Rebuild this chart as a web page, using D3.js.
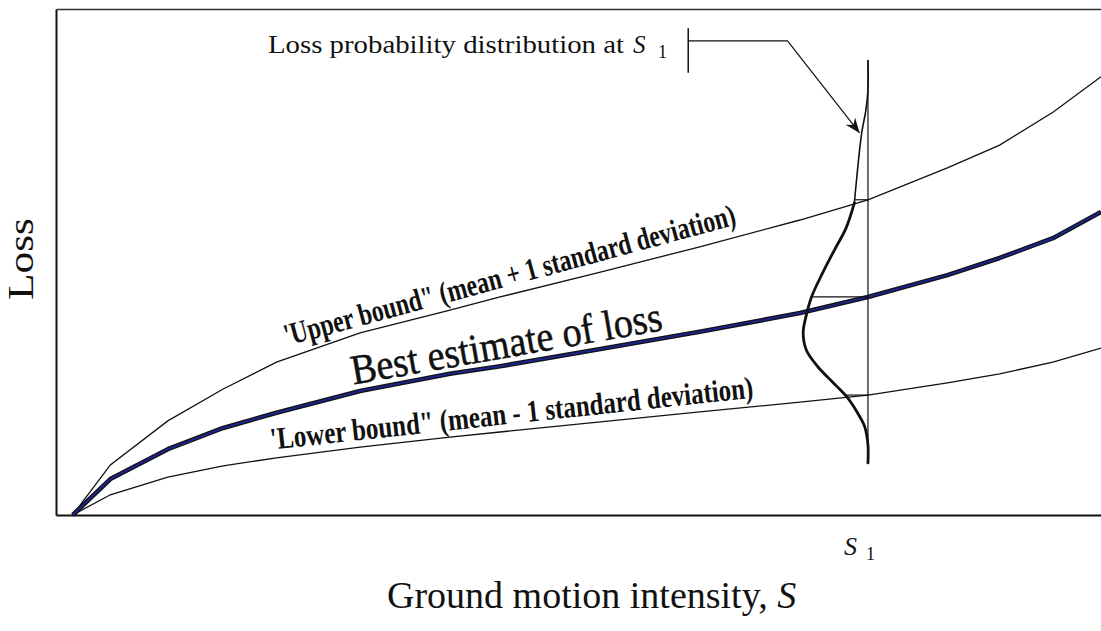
<!DOCTYPE html>
<html>
<head>
<meta charset="utf-8">
<script src="https://cdn.jsdelivr.net/npm/d3@7"></script>
<style>
  body { margin: 0; background: #fff; }
  svg { display: block; }
  text { font-family: "Liberation Serif", "Times New Roman", serif; fill: #111; }
</style>
</head>
<body>
<svg id="chart" width="1101" height="631"></svg>
<script>
// Ground motion intensity S (shared sample grid for the three loss curves)
const intensity = [0.16, 0.52, 1.07, 1.60, 2.11, 2.91, 3.77, 4.25, 5.21, 6.16, 7.12, 7.77, 8.53, 9.03, 9.54, 10.0];
// Loss: mean + 1 standard deviation
const upperLoss = [0, 0.99, 1.86, 2.49, 3.02, 3.60, 4.05, 4.31, 4.80, 5.30, 5.83, 6.23, 6.86, 7.31, 7.96, 8.66];
// Loss: best estimate (mean)
const meanLoss  = [0, 0.71, 1.30, 1.72, 2.02, 2.45, 2.79, 2.94, 3.28, 3.62, 3.99, 4.31, 4.74, 5.08, 5.47, 5.99];
// Loss: mean - 1 standard deviation
const lowerLoss = [0, 0.40, 0.75, 0.97, 1.13, 1.34, 1.54, 1.64, 1.84, 2.04, 2.23, 2.37, 2.61, 2.79, 3.02, 3.30];

// Intensity at which the loss distribution is shown
const S1 = 7.77;
// Loss probability distribution at S1 (loss level, density drawn leftwards in S units)
const distLoss    = [8.99, 8.40, 8.00, 7.55, 6.82, 6.17, 5.67, 5.24, 4.80, 4.31, 3.95, 3.60, 3.26, 2.93, 2.63, 2.33, 2.02, 1.74, 1.38, 1.03];
const distDensity = [0, 0, 0.02, 0.06, 0.10, 0.13, 0.21, 0.32, 0.43, 0.54, 0.59, 0.62, 0.59, 0.48, 0.34, 0.20, 0.10, 0.03, 0, 0];

// Text
const curveLabels = [
  { text: "'Upper bound\" (mean + 1 standard deviation)", series: upperLoss, from: 2.24, to: 6.55, offset: 12, size: 31, weight: "bold" },
  { text: "Best estimate of loss", series: meanLoss, from: 2.86, to: 5.83, offset: 8, size: 42, weight: "normal" },
  { text: "'Lower bound\" (mean - 1 standard deviation)", series: lowerLoss, from: 2.07, to: 6.69, offset: 9, size: 31, weight: "bold" }
];
const xTitle = "Ground motion intensity, ";
const yTitle = "Loss";
const calloutText = "Loss probability distribution at";
// Callout leader (S, loss): bar, elbow and arrow tip
const calloutBar = { s: 6.05, lossTop: 9.62, lossBottom: 8.74, lossLine: 9.37 };
const calloutElbow = { s: 7.00, loss: 9.37 };
const calloutTip = { s: 7.69, loss: 7.55 };

const svg = d3.select("#chart");
const x = d3.scaleLinear().domain([0, 10]).range([56, 1101]);
const y = d3.scaleLinear().domain([0, 10]).range([515, 9]);

// Frame: left, bottom and top edges
function frameAxis(axis, tx, ty) {
  const g = svg.append("g").attr("transform", `translate(${tx},${ty})`)
    .call(axis.tickValues([]).tickSizeOuter(0));
  g.select(".domain").attr("stroke", "#111").attr("stroke-width", 2);
  return g;
}
frameAxis(d3.axisBottom(x), 0, y(0));
frameAxis(d3.axisLeft(y), x(0), 0);
frameAxis(d3.axisTop(x), 0, y(10)).select(".domain").attr("stroke", "#333").attr("stroke-width", 1.5);

// Loss curves
const line = d3.line().x((d, i) => x(intensity[i])).y(d => y(d)).curve(d3.curveLinear);
svg.append("path").attr("d", line(upperLoss)).attr("fill", "none").attr("stroke", "#111").attr("stroke-width", 1.3);
svg.append("path").attr("d", line(lowerLoss)).attr("fill", "none").attr("stroke", "#111").attr("stroke-width", 1.3);
svg.append("path").attr("d", line(meanLoss)).attr("fill", "none").attr("stroke", "#111").attr("stroke-width", 4.6).attr("stroke-linejoin", "round");
svg.append("path").attr("d", line(meanLoss)).attr("fill", "none").attr("stroke", "#1b2488").attr("stroke-width", 2).attr("stroke-linejoin", "round");

// Linear interpolation along a curve
function valueAt(series, s) {
  const i = Math.max(1, Math.min(intensity.length - 1, d3.bisectLeft(intensity, s)));
  const t = (s - intensity[i - 1]) / (intensity[i] - intensity[i - 1]);
  return series[i - 1] + t * (series[i] - series[i - 1]);
}

// Labels laid along the curves
curveLabels.forEach(l => {
  const x0 = x(l.from), y0 = y(valueAt(l.series, l.from));
  const x1 = x(l.to), y1 = y(valueAt(l.series, l.to));
  const ang = Math.atan2(y1 - y0, x1 - x0);
  const len = Math.hypot(x1 - x0, y1 - y0);
  const px = Math.sin(ang) * l.offset, py = -Math.cos(ang) * l.offset;
  svg.append("text")
    .attr("transform", `translate(${x0 + px},${y0 + py}) rotate(${ang * 180 / Math.PI})`)
    .attr("font-size", l.size)
    .attr("font-weight", l.weight)
    .attr("stroke", l.weight === "normal" ? "#111" : "none")
    .attr("stroke-width", 0.5)
    .attr("textLength", len)
    .attr("lengthAdjust", "spacingAndGlyphs")
    .text(l.text);
});

// Vertical line at S1
svg.append("line")
  .attr("x1", x(S1)).attr("x2", x(S1))
  .attr("y1", y(d3.min(distLoss))).attr("y2", y(d3.max(distLoss)))
  .attr("stroke", "#111").attr("stroke-width", 1.2);

// Distribution curve
const distPts = distLoss.map((v, i) => [x(S1 - distDensity[i]), y(v)]);
const distLine = d3.line().curve(d3.curveCatmullRom.alpha(0.5));
svg.append("path").attr("d", distLine(distPts.slice(0, 6))).attr("fill", "none").attr("stroke", "#111").attr("stroke-width", 1.6);
svg.append("path").attr("d", distLine(distPts.slice(5))).attr("fill", "none").attr("stroke", "#111").attr("stroke-width", 2.8).attr("stroke-linecap", "round");

// Horizontal connectors from the distribution curve to S1 at the three curve levels
function densityAt(loss) {
  for (let i = 1; i < distLoss.length; i++) {
    if (loss <= distLoss[i - 1] && loss >= distLoss[i]) {
      const t = (distLoss[i - 1] - loss) / (distLoss[i - 1] - distLoss[i]);
      return distDensity[i - 1] + t * (distDensity[i] - distDensity[i - 1]);
    }
  }
  return 0;
}
[valueAt(upperLoss, S1), valueAt(meanLoss, S1), valueAt(lowerLoss, S1)].forEach(v => {
  svg.append("line")
    .attr("x1", x(S1 - densityAt(v))).attr("x2", x(S1) + 1)
    .attr("y1", y(v)).attr("y2", y(v))
    .attr("stroke", "#111").attr("stroke-width", 1.2);
});

// Callout with leader and arrow
svg.append("line")
  .attr("x1", x(calloutBar.s)).attr("x2", x(calloutBar.s))
  .attr("y1", y(calloutBar.lossTop)).attr("y2", y(calloutBar.lossBottom))
  .attr("stroke", "#111").attr("stroke-width", 1.5);
const tip = [x(calloutTip.s), y(calloutTip.loss)];
const elbow = [x(calloutElbow.s), y(calloutElbow.loss)];
svg.append("path")
  .attr("d", d3.line()([[x(calloutBar.s), y(calloutBar.lossLine)], elbow, tip]))
  .attr("fill", "none").attr("stroke", "#111").attr("stroke-width", 1.2);
{
  const a = Math.atan2(tip[1] - elbow[1], tip[0] - elbow[0]);
  const ux = Math.cos(a), uy = Math.sin(a), vx = -uy, vy = ux;
  const L = 15, Wd = 6, N = 10;
  const head = [
    tip,
    [tip[0] - L * ux + Wd * vx, tip[1] - L * uy + Wd * vy],
    [tip[0] - N * ux, tip[1] - N * uy],
    [tip[0] - L * ux - Wd * vx, tip[1] - L * uy - Wd * vy]
  ];
  svg.append("path").attr("d", d3.line()(head) + "Z").attr("fill", "#111");
}
svg.append("text")
  .attr("x", 268).attr("y", 53)
  .attr("font-size", 25)
  .attr("textLength", 356).attr("lengthAdjust", "spacingAndGlyphs")
  .text(calloutText);
svg.append("text").attr("x", 633).attr("y", 53).attr("font-size", 25).attr("font-style", "italic").text("S");
svg.append("text").attr("x", 658).attr("y", 58).attr("font-size", 18).text("1");

// S1 tick label
svg.append("text").attr("x", x(S1) - 24).attr("y", 555).attr("font-size", 26).attr("font-style", "italic").text("S");
svg.append("text").attr("x", x(S1) - 2).attr("y", 560).attr("font-size", 18).text("1");

// Axis titles
const xt = svg.append("text").attr("x", 387).attr("y", 608).attr("font-size", 38);
xt.append("tspan").text(xTitle);
xt.append("tspan").attr("font-style", "italic").text("S");

svg.append("text")
  .attr("transform", "translate(33,300) rotate(-90)")
  .attr("font-size", 35)
  .attr("textLength", 82).attr("lengthAdjust", "spacingAndGlyphs")
  .text(yTitle);
</script>
</body>
</html>
